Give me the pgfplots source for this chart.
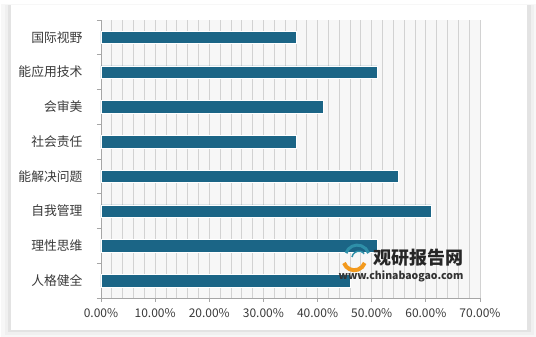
\documentclass[border=0pt]{standalone}
\usepackage{fontspec}
\setmainfont{Noto Sans CJK SC}
\usepackage{pgfplots}
\pgfplotsset{compat=1.18}
\definecolor{barc}{HTML}{1B6586}
\definecolor{txt}{HTML}{3A3A3A}
\definecolor{logoteal}{HTML}{2E8FA8}
\definecolor{logoorange}{HTML}{F39A1E}
\begin{document}
\begin{tikzpicture}[x=1pt,y=1pt]
\useasboundingbox (0,0) rectangle (536,337);
\fill[white] (0,0) rectangle (536,337);
\fill[gray!6] (1,0) rectangle (536,333);
\fill[gray!12] (5,2) rectangle (534,332);
\fill[gray!22] (8,5) rectangle (531,332);
\fill[white] (11,7) rectangle (527,332);
\begin{axis}[at={(101pt,39pt)}, anchor=south west, scale only axis,
  width=379pt, height=278pt,
  xmin=0, xmax=70, ymin=-0.5, ymax=7.5,
  xbar, bar width=12.5pt,
  axis background/.style={fill=gray!6},
  axis x line*=bottom, axis y line*=left,
  x axis line style={gray!70, line width=0.8pt, -},
  y axis line style={gray!70, line width=0.8pt, -},
  xtick={0,10,...,70},
  xticklabels={0.00\%,10.00\%,20.00\%,30.00\%,40.00\%,50.00\%,60.00\%,70.00\%},
  minor xtick={2,4,6,8,12,14,16,18,22,24,26,28,32,34,36,38,42,44,46,48,52,54,56,58,62,64,66,68},
  xmajorgrids, xminorgrids,
  major grid style={gray!35, line width=0.8pt},
  minor grid style={gray!35, line width=0.8pt},
  ytick={0,...,7},
  yticklabels={人格健全,理性思维,自我管理,能解决问题,社会责任,会审美,能应用技术,国际视野},
  minor ytick={-0.5,0.5,...,7.5},
  tick align=outside,
  major tick length=4pt, minor tick length=4pt,
  major y tick style={draw=none},
  minor x tick style={draw=none},
  minor y tick style={draw=gray!70, line width=0.8pt},
  major x tick style={draw=gray!70, line width=0.8pt},
  xticklabel style={font=\fontsize{12}{12}\selectfont, text=txt, yshift=-3pt},
  yticklabel style={font=\fontsize{12.8}{12.8}\selectfont, text=txt, xshift=-11pt},
  /pgf/number format/assume math mode=true,
]
\addplot[fill=barc, draw=white, line width=0.6pt] coordinates {
  (46,0) (51,1) (61,2) (55,3) (36,4) (41,5) (51,6) (36,7)
};
\end{axis}
% watermark
\draw[logoteal, line width=3pt] (346,84) arc (160:20:12);
\draw[logoteal, line width=1.5pt] (352,80) arc (170:40:7);
\draw[logoorange, line width=4pt] (344,74) arc (200:340:11);
\node[font=\fontsize{18}{18}\selectfont\bfseries, text=black!85] at (418,79.5) {观研报告网};
\node[font=\fontsize{10.5}{10.5}\selectfont\bfseries, text=black!80] at (401,61) {www.chinabaogao.com};
\end{tikzpicture}
\end{document}
